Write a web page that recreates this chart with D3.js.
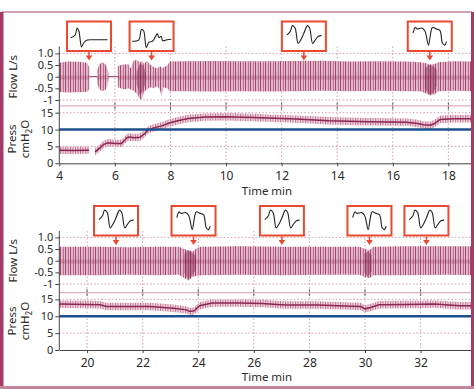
<!DOCTYPE html>
<html><head><meta charset="utf-8">
<script src="https://cdn.jsdelivr.net/npm/d3@7"></script>
<style>body{margin:0;background:#fff}svg{display:block}text{font-family:"Noto Sans",sans-serif}</style>
</head><body><svg id="c" width="474" height="389"></svg>
<script>
// ---------- data ----------
const xTicksTop = [4, 6, 8, 10, 12, 14, 16, 18];
const xTicksBottom = [20, 22, 24, 26, 28, 30, 32];
const flowTicks = [1, 0.5, 0, -0.5, -1];
const flowTickLabels = ["1.0", "0.5", "0", "-0.5", "-1"];
const pressTicks = [15, 10, 5, 0];
const pressTickLabels = ["15", "10", "5", "0"];
const pressThreshold = 10;

// flow envelope (L/s), top panel
const flowTopTime = [4.0, 4.3, 4.7, 5.0, 5.08, 5.12, 5.3, 5.36, 5.45, 5.55, 5.65, 5.72, 5.77, 6.05, 6.1, 6.2, 6.35, 6.48, 6.56, 6.68, 6.8, 6.9, 6.96, 7.05, 7.15, 7.28, 7.4, 7.52, 7.62, 7.68, 7.75, 7.88, 7.98, 8.5, 9.5, 10.5, 11.5, 12.5, 13.5, 14.5, 15.5, 16.5, 17.0, 17.2, 17.35, 17.5, 17.65, 18.2, 18.85];
const flowTopHigh = [0.6, 0.65, 0.64, 0.6, 0.4, null, null, 0.3, 0.55, 0.62, 0.55, 0.4, 0.15, null, 0.45, 0.5, 0.52, 0.55, 0.35, 0.7, 0.72, 0.6, 0.7, 0.55, 0.68, 0.5, 0.42, 0.35, 0.45, 0.38, 0.4, 0.48, 0.65, 0.66, 0.67, 0.66, 0.66, 0.67, 0.68, 0.65, 0.66, 0.65, 0.62, 0.58, 0.52, 0.55, 0.62, 0.66, 0.65];
const flowTopLow = [-0.66, -0.68, -0.67, -0.65, -0.55, null, null, -0.3, -0.55, -0.62, -0.58, -0.42, -0.15, null, -0.45, -0.5, -0.55, -0.5, -0.55, -0.6, -0.75, -0.95, -1.0, -0.65, -0.55, -0.45, -0.5, -0.4, -0.55, -0.85, -0.45, -0.5, -0.62, -0.62, -0.63, -0.62, -0.64, -0.62, -0.6, -0.62, -0.6, -0.62, -0.62, -0.72, -0.8, -0.75, -0.62, -0.6, -0.62];
// dense (dark) flow segments, top panel
const darkTopTime = [6.78, 6.9, 7.02, 7.12, 7.13, 17.15, 17.3, 17.45, 17.58];
const darkTopHigh = [0.2, 0.55, 0.5, 0.1, null, 0.35, 0.5, 0.45, 0.3];
const darkTopLow = [-0.3, -0.8, -0.6, -0.2, null, -0.5, -0.78, -0.7, -0.4];

// flow envelope, bottom panel
const flowBottomTime = [19.0, 20.5, 21.5, 22.5, 23.3, 23.5, 23.65, 23.8, 23.95, 24.1, 25.5, 27.0, 28.5, 29.8, 30.0, 30.15, 30.3, 31.5, 33.0, 33.85];
const flowBottomHigh = [0.6, 0.6, 0.58, 0.6, 0.6, 0.5, 0.45, 0.4, 0.55, 0.6, 0.62, 0.6, 0.6, 0.6, 0.5, 0.45, 0.6, 0.62, 0.62, 0.62];
const flowBottomLow = [-0.62, -0.62, -0.6, -0.62, -0.6, -0.75, -0.85, -0.7, -0.65, -0.62, -0.6, -0.62, -0.6, -0.6, -0.7, -0.75, -0.62, -0.62, -0.6, -0.62];
const darkBottomTime = [23.5, 23.62, 23.78, 23.92, 23.93, 29.98, 30.1, 30.24];
const darkBottomHigh = [0.3, 0.45, 0.35, 0.2, null, 0.3, 0.4, 0.25];
const darkBottomLow = [-0.5, -0.8, -0.65, -0.4, null, -0.5, -0.7, -0.45];

// airway pressure (cmH2O)
const pressTopTime = [4.0, 4.5, 5.0, 5.07, 5.18, 5.29, 5.45, 5.6, 5.76, 6.0, 6.24, 6.35, 6.42, 6.5, 6.7, 6.9, 7.05, 7.2, 7.4, 7.68, 7.98, 8.3, 8.64, 9.24, 10.0, 11.0, 11.5, 12.5, 13.7, 15.1, 16.5, 16.9, 17.1, 17.36, 17.5, 17.7, 18.2, 18.85];
const pressTopValue = [3.9, 3.8, 3.9, 3.9, null, 3.4, 4.5, 5.6, 6.1, 5.9, 5.9, 6.8, 7.5, 7.8, 7.6, 7.7, 8.6, 9.9, 10.5, 11.1, 12.0, 12.7, 13.3, 13.7, 13.8, 13.6, 13.4, 13.1, 12.6, 12.3, 12.2, 11.8, 11.4, 11.3, 11.8, 13.0, 13.2, 13.2];
const pressBottomTime = [19.0, 20.0, 20.46, 20.7, 22.25, 23.1, 23.58, 23.7, 23.85, 24.05, 24.5, 25.5, 26.3, 27.1, 28.3, 29.5, 29.85, 30.0, 30.2, 30.5, 31.5, 32.5, 33.4, 33.85];
const pressBottomValue = [13.6, 13.5, 13.4, 12.9, 12.9, 12.4, 11.9, 11.4, 11.6, 13.1, 13.9, 13.9, 13.8, 13.35, 13.35, 13.0, 12.9, 12.2, 12.6, 13.4, 13.5, 13.6, 13.1, 13.1];
const pressSpread = 1.1;

// inset waveform examples
const insetTopTime = [5.07, 7.32, 12.8, 17.33];
const insetTopShape = ["A", "B", "C", "D"];
const insetBottomTime = [21.04, 23.83, 27.01, 30.16, 32.21];
const insetBottomShape = ["C", "D", "C", "D", "C"];
const shapeA = [[0.08,0.55],[0.18,0.47],[0.23,0.22],[0.27,0.33],[0.33,0.86],[0.38,0.72],[0.46,0.63],[0.6,0.62],[0.92,0.62]];
const shapeB = [[0.06,0.67],[0.21,0.62],[0.27,0.27],[0.32,0.32],[0.38,0.88],[0.44,0.7],[0.52,0.67],[0.58,0.53],[0.63,0.42],[0.67,0.55],[0.72,0.5],[0.75,0.65],[0.85,0.62],[0.95,0.6]];
const shapeC = [[0.11,0.46],[0.19,0.34],[0.24,0.14],[0.3,0.22],[0.37,0.74],[0.43,0.62],[0.5,0.4],[0.58,0.14],[0.63,0.22],[0.7,0.74],[0.76,0.62],[0.83,0.5],[0.9,0.48]];
const shapeD = [[0.12,0.39],[0.17,0.2],[0.22,0.25],[0.32,0.22],[0.39,0.32],[0.47,0.8],[0.52,0.4],[0.56,0.2],[0.65,0.25],[0.73,0.3],[0.79,0.74],[0.84,0.8],[0.88,0.68]];
const shapes = {A: shapeA, B: shapeB, C: shapeC, D: shapeD};

// ---------- drawing ----------
const svg = d3.select("#c");
const defs = svg.append("defs");
const pf = defs.append("pattern").attr("id","flowStripe").attr("width",5).attr("height",10).attr("patternUnits","userSpaceOnUse");
pf.append("rect").attr("width",5).attr("height",10).attr("fill","#f2d6e1");
pf.append("rect").attr("x",0).attr("width",1).attr("height",10).attr("fill","#a5476f");
pf.append("rect").attr("x",1.6).attr("width",0.9).attr("height",10).attr("fill","#cc8ca7");
pf.append("rect").attr("x",3.2).attr("width",1).attr("height",10).attr("fill","#b0587d");
const pp = defs.append("pattern").attr("id","pressStripe").attr("width",2.5).attr("height",10).attr("patternUnits","userSpaceOnUse");
pp.append("rect").attr("width",2.5).attr("height",10).attr("fill","#f2d9e2");
pp.append("rect").attr("x",0).attr("width",1).attr("height",10).attr("fill","#c27896");

const zip3 = (t, a, b) => t.map((d, i) => ({t: d, hi: a[i], lo: b[i]}));
const zip2 = (t, a) => t.map((d, i) => ({t: d, v: a[i]}));

const panels = [
  {xDomain: [4, 18.85], xTicks: xTicksTop, flow: zip3(flowTopTime, flowTopHigh, flowTopLow),
   dark: zip3(darkTopTime, darkTopHigh, darkTopLow), press: zip2(pressTopTime, pressTopValue),
   insetT: insetTopTime, insetS: insetTopShape,
   f0: 76.7, p0: 163.3, top: 46.5, boxTop: 21.5, pTitle: 139, timeY: 195},
  {xDomain: [19, 33.85], xTicks: xTicksBottom, flow: zip3(flowBottomTime, flowBottomHigh, flowBottomLow),
   dark: zip3(darkBottomTime, darkBottomHigh, darkBottomLow), press: zip2(pressBottomTime, pressBottomValue),
   insetT: insetBottomTime, insetS: insetBottomShape,
   f0: 260.7, p0: 350, top: 231, boxTop: 206, pTitle: 321, timeY: 381}
];

const X0 = 59.3, X1 = 472;
const gridCol = "#d39cb2";

panels.forEach(P => {
  const x = d3.scaleLinear().domain(P.xDomain).range([X0, X1]);
  const yF = d3.scaleLinear().domain([-1, 1]).range([P.f0 + 23.3, P.f0 - 23.3]);
  const yP = d3.scaleLinear().domain([0, 15]).range([P.p0, P.p0 - 50.6]);
  const g = svg.append("g");

  // vertical grid
  P.xTicks.filter(t => x(t) > X0 + 2).forEach(t => {
    g.append("line").attr("x1", x(t)).attr("x2", x(t)).attr("y1", P.top).attr("y2", P.p0)
      .attr("stroke", gridCol).attr("stroke-dasharray", "1.5,2");
    g.append("line").attr("x1", x(t)).attr("x2", x(t)).attr("y1", yP(17) - 3.5).attr("y2", yP(17) + 3.5)
      .attr("stroke", "#666").attr("stroke-width", 1);
  });
  // horizontal grid
  [yF(1), yF(-1), yP(15), yP(5)].forEach(y => {
    g.append("line").attr("x1", X0).attr("x2", X1).attr("y1", y).attr("y2", y)
      .attr("stroke", gridCol).attr("stroke-dasharray", "1.5,2");
  });
  g.append("line").attr("x1", X0).attr("x2", X1).attr("y1", yP(17)).attr("y2", yP(17))
    .attr("stroke", "#e2adc1").attr("stroke-width", 1.2);

  // flow zero line
  g.append("line").attr("x1", X0).attr("x2", X1).attr("y1", yF(0)).attr("y2", yF(0))
    .attr("stroke", "#8e2b55").attr("stroke-width", 1);
  // flow band
  const fa = d3.area().defined(d => d.hi !== null).x(d => x(d.t)).y0(d => yF(d.lo)).y1(d => yF(d.hi));
  g.append("path").datum(P.flow).attr("d", fa).attr("fill", "url(#flowStripe)");
  g.append("path").datum(P.flow).attr("d", d3.area().defined(d => d.hi !== null).x(d => x(d.t)).y0(d => yF(Math.min(0.05, d.hi))).y1(d => yF(Math.max(-0.12, d.lo))))
    .attr("fill", "#8e2b55").attr("opacity", 0.25);
  g.append("path").datum(P.dark).attr("d", fa).attr("fill", "#7e1e48").attr("opacity", 0.45);

  // pressure band + line
  const pa = d3.area().defined(d => d.v !== null).x(d => x(d.t))
    .y0(d => yP(d.v - pressSpread)).y1(d => yP(d.v + pressSpread));
  g.append("path").datum(P.press).attr("d", pa).attr("fill", "url(#pressStripe)");
  g.append("path").datum(P.press).attr("d", d3.line().defined(d => d.v !== null).x(d => x(d.t)).y(d => yP(d.v)))
    .attr("fill", "none").attr("stroke", "#8c2652").attr("stroke-width", 1.5);

  // threshold line
  g.append("line").attr("x1", X0).attr("x2", X1).attr("y1", yP(pressThreshold)).attr("y2", yP(pressThreshold))
    .attr("stroke", "#1d4f8f").attr("stroke-width", 2.6);

  // axes
  g.append("line").attr("x1", X0).attr("x2", X0).attr("y1", P.top).attr("y2", P.p0).attr("stroke", "#444");
  const xa = g.append("g").attr("transform", `translate(0,${P.p0})`)
    .call(d3.axisBottom(x).tickValues(P.xTicks).tickSize(3).tickSizeOuter(0).tickPadding(5).tickFormat(d3.format("d")));
  const fl = g.append("g").attr("transform", `translate(${X0},0)`)
    .call(d3.axisLeft(yF).tickValues(flowTicks).tickSize(4).tickPadding(2).tickFormat((d, i) => flowTickLabels[i]));
  const pl = g.append("g").attr("transform", `translate(${X0},0)`)
    .call(d3.axisLeft(yP).tickValues(pressTicks).tickSize(4).tickPadding(2).tickFormat((d, i) => pressTickLabels[i]));
  [xa, fl, pl].forEach(a => {
    a.select(".domain").attr("stroke", "#444");
    a.selectAll(".tick line").attr("stroke", "#444");
    a.selectAll("text").attr("font-size", 11).attr("fill", "#2a2a2a").attr("font-family", "'Noto Sans',sans-serif");
  });
  xa.selectAll("text").attr("font-size", 12);
  fl.select(".domain").remove();
  pl.select(".domain").remove();

  // titles
  g.append("text").attr("transform", `translate(16.5,${P.f0}) rotate(-90)`).attr("text-anchor", "middle")
    .attr("font-size", 11.5).attr("fill", "#2a2a2a").text("Flow L/s");
  g.append("text").attr("transform", `translate(16,${P.pTitle}) rotate(-90)`).attr("text-anchor", "middle")
    .attr("font-size", 11.5).attr("fill", "#2a2a2a").text("Press");
  const ct = g.append("text").attr("transform", `translate(28.5,${P.pTitle}) rotate(-90)`).attr("text-anchor", "middle")
    .attr("font-size", 11.5).attr("fill", "#2a2a2a");
  ct.append("tspan").text("cmH");
  ct.append("tspan").attr("font-size", 8).attr("dy", 3).text("2");
  ct.append("tspan").attr("dy", -3).text("O");
  g.append("text").attr("x", 267).attr("y", P.timeY).attr("text-anchor", "middle")
    .attr("font-size", 11.5).attr("fill", "#2a2a2a").text("Time min");

  // insets
  const sl = d3.line().x(d => d[0] * 44).y(d => d[1] * 29.5).curve(d3.curveCatmullRom.alpha(0.5));
  P.insetT.forEach((t, i) => {
    const ig = g.append("g").attr("transform", `translate(${x(t) - 22},${P.boxTop})`);
    ig.append("rect").attr("width", 44).attr("height", 29.5).attr("fill", "#fff")
      .attr("stroke", "#e8492f").attr("stroke-width", 2);
    ig.append("path").attr("d", sl(shapes[P.insetS[i]])).attr("fill", "none")
      .attr("stroke", "#222").attr("stroke-width", 1.1);
    ig.append("line").attr("x1", 22).attr("x2", 22).attr("y1", 30.5).attr("y2", 35)
      .attr("stroke", "#e8492f").attr("stroke-width", 1.5);
    ig.append("path").attr("d", "M18.7,34 L25.3,34 L22,39 Z").attr("fill", "#e8492f");
  });
});

// frame
svg.append("line").attr("x1", 2).attr("x2", 472).attr("y1", 12).attr("y2", 12).attr("stroke", "#a6466e").attr("stroke-width", 1.2);
svg.append("rect").attr("x", 0).attr("y", 12).attr("width", 3.5).attr("height", 376).attr("fill", "#a33b65");
svg.append("rect").attr("x", 471).attr("y", 12).attr("width", 3).attr("height", 376).attr("fill", "#a33b65");
svg.append("rect").attr("x", 0).attr("y", 386).attr("width", 474).attr("height", 3).attr("fill", "#c4849d");
</script></body></html>
